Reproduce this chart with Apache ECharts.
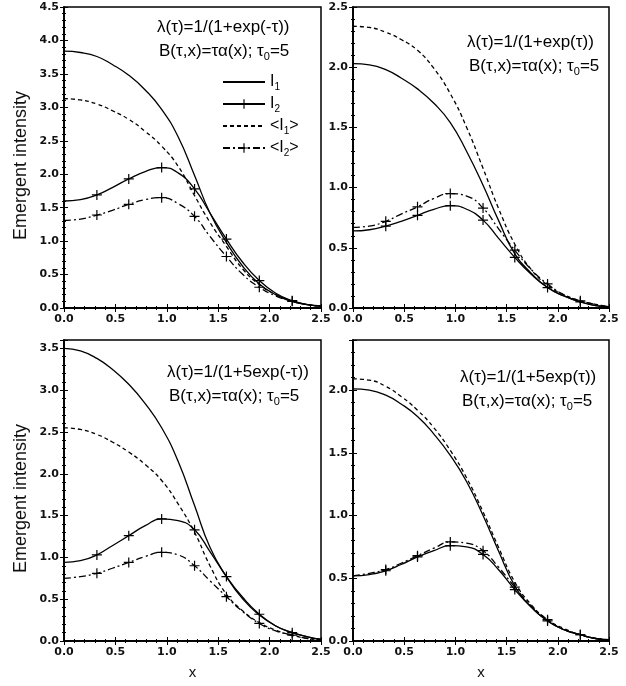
<!DOCTYPE html>
<html><head><meta charset="utf-8">
<script src="https://cdn.jsdelivr.net/npm/echarts@6/dist/echarts.min.js"></script>
<style>html,body{margin:0;padding:0;background:#fff}#c{width:626px;height:686px}</style>
</head><body><div id="c"></div>
<script>
// ---- data ----
const X = [0, 0.16, 0.32, 0.47, 0.63, 0.79, 0.95, 1.11, 1.27, 1.42, 1.58, 1.74, 1.90, 2.06, 2.22, 2.37, 2.5];
const MARKER_IDX = [2, 4, 6, 8, 10, 12, 14];
const SERIES_NAMES = ['I1', 'I2', '<I1>', '<I2>'];

// top-left: lambda = 1/(1+exp(-tau))
const TL_I1  = [3.84, 3.82, 3.76, 3.64, 3.48, 3.26, 2.97, 2.56, 1.98, 1.42, 0.98, 0.62, 0.36, 0.20, 0.10, 0.05, 0.03];
const TL_I2  = [1.60, 1.62, 1.69, 1.80, 1.93, 2.04, 2.10, 2.02, 1.78, 1.42, 1.03, 0.68, 0.41, 0.22, 0.11, 0.05, 0.03];
const TL_MI1 = [3.13, 3.11, 3.05, 2.95, 2.82, 2.64, 2.42, 2.12, 1.68, 1.28, 0.92, 0.58, 0.35, 0.20, 0.10, 0.05, 0.03];
const TL_MI2 = [1.31, 1.33, 1.39, 1.46, 1.55, 1.62, 1.65, 1.56, 1.37, 1.07, 0.77, 0.50, 0.31, 0.18, 0.10, 0.05, 0.02];
// top-right: lambda = 1/(1+exp(tau))
const TR_I1  = [2.03, 2.02, 1.98, 1.91, 1.82, 1.70, 1.54, 1.30, 1.02, 0.73, 0.45, 0.29, 0.17, 0.10, 0.05, 0.02, 0.01];
const TR_I2  = [0.64, 0.65, 0.68, 0.72, 0.77, 0.82, 0.85, 0.82, 0.73, 0.58, 0.42, 0.28, 0.17, 0.10, 0.05, 0.02, 0.01];
const TR_MI1 = [2.34, 2.33, 2.29, 2.23, 2.14, 1.99, 1.78, 1.50, 1.16, 0.83, 0.53, 0.32, 0.19, 0.11, 0.06, 0.03, 0.01];
const TR_MI2 = [0.67, 0.68, 0.72, 0.78, 0.84, 0.91, 0.95, 0.93, 0.83, 0.66, 0.48, 0.32, 0.20, 0.11, 0.06, 0.03, 0.01];
// bottom-left: lambda = 1/(1+5exp(-tau))
const BL_I1  = [3.50, 3.47, 3.38, 3.25, 3.07, 2.84, 2.55, 2.15, 1.62, 1.12, 0.77, 0.50, 0.31, 0.18, 0.10, 0.05, 0.02];
const BL_I2  = [0.94, 0.96, 1.03, 1.14, 1.26, 1.38, 1.46, 1.44, 1.33, 1.07, 0.77, 0.52, 0.32, 0.18, 0.10, 0.05, 0.02];
const BL_MI1 = [2.55, 2.53, 2.47, 2.38, 2.26, 2.11, 1.92, 1.64, 1.30, 0.90, 0.56, 0.36, 0.22, 0.13, 0.07, 0.03, 0.02];
const BL_MI2 = [0.75, 0.77, 0.81, 0.87, 0.94, 1.01, 1.06, 1.03, 0.90, 0.72, 0.53, 0.35, 0.21, 0.12, 0.07, 0.03, 0.01];
// bottom-right: lambda = 1/(1+5exp(tau))
const BR_I1  = [2.01, 2.00, 1.96, 1.89, 1.79, 1.65, 1.48, 1.27, 1.00, 0.72, 0.44, 0.27, 0.16, 0.09, 0.05, 0.02, 0.01];
const BR_I2  = [0.52, 0.53, 0.56, 0.61, 0.67, 0.72, 0.76, 0.75, 0.69, 0.57, 0.41, 0.27, 0.16, 0.09, 0.05, 0.02, 0.01];
const BR_MI1 = [2.09, 2.08, 2.03, 1.95, 1.84, 1.70, 1.52, 1.30, 1.03, 0.75, 0.47, 0.29, 0.17, 0.10, 0.05, 0.02, 0.01];
const BR_MI2 = [0.52, 0.54, 0.57, 0.62, 0.68, 0.74, 0.79, 0.78, 0.72, 0.59, 0.43, 0.28, 0.17, 0.09, 0.05, 0.02, 0.01];

const LAMBDA_TEXT = ['λ(τ)=1/(1+exp(-τ))', 'λ(τ)=1/(1+exp(τ))', 'λ(τ)=1/(1+5exp(-τ))', 'λ(τ)=1/(1+5exp(τ))'];
const B_TEXT = 'B(τ,x)=τα(x); τ{s|0}=5';
const Y_NAME = 'Emergent intensity';
const X_NAME = 'x';

// ---- layout ----
const FONT = 'Liberation Sans, Arial, sans-serif';
const TICK_FONT = 'DejaVu Sans, sans-serif';
const PANELS = [
  {grid: {left: 64, top: 7, width: 257, height: 301}, yMax: 4.5, showMax: true, yName: true, xName: false, data: [TL_I1, TL_I2, TL_MI1, TL_MI2], txt: {left: 157, top: 19}},
  {grid: {left: 353, top: 7, width: 256, height: 301}, yMax: 2.5, showMax: true, yName: false, xName: false, data: [TR_I1, TR_I2, TR_MI1, TR_MI2], txt: {left: 467, top: 34}},
  {grid: {left: 64, top: 340, width: 257, height: 301}, yMax: 3.6, showMax: false, yName: true, xName: true, data: [BL_I1, BL_I2, BL_MI1, BL_MI2], txt: {left: 167, top: 364}},
  {grid: {left: 353, top: 340, width: 256, height: 301}, yMax: 2.4, showMax: false, yName: false, xName: true, data: [BR_I1, BR_I2, BR_MI1, BR_MI2], txt: {left: 460, top: 369}}
];

const CROSS = 'path://M4.4,0H5.6V4.4H10V5.6H5.6V10H4.4V5.6H0V4.4H4.4Z';
const STYLES = [
  {type: 'solid', marker: false},
  {type: 'solid', marker: true},
  {type: [4, 3], marker: false},
  {type: [7, 3, 2, 3], marker: true}
];

const labelStyle = {fontFamily: TICK_FONT, fontWeight: 'bold', fontSize: 11, color: '#111'};
const grids = [], xAxes = [], yAxes = [], series = [], titles = [];

PANELS.forEach((p, k) => {
  grids.push(Object.assign({show: true, borderColor: '#000', borderWidth: 1.5, backgroundColor: '#fff'}, p.grid));
  const common = {
    type: 'value', gridIndex: k, min: 0, interval: 0.5,
    axisLine: {show: true, lineStyle: {color: '#000', width: 1.5}},
    axisTick: {show: true, inside: true, length: 4, lineStyle: {color: '#000', width: 1}},
    minorTick: {show: true, splitNumber: 5, length: 2, lineStyle: {color: '#000', width: 1}},
    splitLine: {show: false}
  };
  xAxes.push(Object.assign({}, common, {
    position: 'bottom', max: 2.5,
    axisLabel: Object.assign({margin: 6, formatter: v => v.toFixed(1), showMinLabel: true, showMaxLabel: true}, labelStyle),
    name: p.xName ? X_NAME : '', nameLocation: 'middle', nameGap: 24,
    nameTextStyle: {fontFamily: FONT, fontSize: 15, color: '#111'}
  }));
  xAxes.push(Object.assign({}, common, {position: 'top', max: 2.5, axisLabel: {show: false}}));
  yAxes.push(Object.assign({}, common, {
    position: 'left', max: p.yMax,
    axisLabel: Object.assign({margin: 5, formatter: v => v.toFixed(1), showMinLabel: true, showMaxLabel: p.showMax}, labelStyle),
    name: p.yName ? Y_NAME : '', nameLocation: 'middle', nameGap: 34, nameRotate: 90,
    nameTextStyle: {fontFamily: FONT, fontSize: 18, color: '#111', padding: [0, 16, 0, 0]}
  }));
  yAxes.push(Object.assign({}, common, {position: 'right', max: p.yMax, axisLabel: {show: false}}));

  p.data.forEach((ys, s) => {
    const st = STYLES[s];
    const data = X.map((x, i) => (st.marker && MARKER_IDX.indexOf(i) >= 0) ? [x, ys[i]] : {value: [x, ys[i]], symbol: 'none'});
    series.push({
      type: 'line', name: SERIES_NAMES[s], xAxisIndex: 2 * k, yAxisIndex: 2 * k,
      data: data, smooth: 0.5,
      symbol: st.marker ? CROSS : 'none', symbolSize: 10, showSymbol: true,
      itemStyle: {color: '#000'},
      lineStyle: {color: '#000', width: 1.3, type: st.type},
      emphasis: {disabled: true}, z: 3
    });
  });

  const tstyle = {fontFamily: FONT, fontSize: 17, fontWeight: 'normal', color: '#000'};
  titles.push({text: LAMBDA_TEXT[k], left: p.txt.left, top: p.txt.top, padding: 0, textStyle: tstyle});
  titles.push({
    text: B_TEXT, left: p.txt.left + 2, top: p.txt.top + 22, padding: 0,
    textStyle: Object.assign({}, tstyle, {rich: {s: {fontFamily: FONT, fontSize: 11, color: '#000', verticalAlign: 'bottom', padding: [10, 0, 0, 0]}}})
  });
});

const LEGEND_LABELS = {'I1': 'I{s|1}', 'I2': 'I{s|2}', '<I1>': '<I{s|1}>', '<I2>': '<I{s|2}>'};
const HIDE_SYM = {color: 'rgba(0,0,0,0)', borderColor: 'rgba(0,0,0,0)', borderWidth: 0, opacity: 0};

const chart = echarts.init(document.getElementById('c'), null, {renderer: 'canvas'});
chart.setOption({
  animation: false,
  backgroundColor: '#fff',
  title: titles,
  grid: grids,
  xAxis: xAxes,
  yAxis: yAxes,
  legend: {
    data: [
      {name: 'I1', itemStyle: HIDE_SYM},
      {name: 'I2'},
      {name: '<I1>', itemStyle: HIDE_SYM},
      {name: '<I2>'}
    ],
    orient: 'vertical', left: 222, top: 74, itemWidth: 42, itemHeight: 12, itemGap: 4,
    selectedMode: false, padding: 0,
    formatter: n => LEGEND_LABELS[n],
    textStyle: {fontFamily: FONT, fontSize: 16, color: '#000', rich: {s: {fontFamily: FONT, fontSize: 10, color: '#000', verticalAlign: 'bottom', padding: [10, 0, 0, 0]}}}
  },
  series: series
});
</script></body></html>
